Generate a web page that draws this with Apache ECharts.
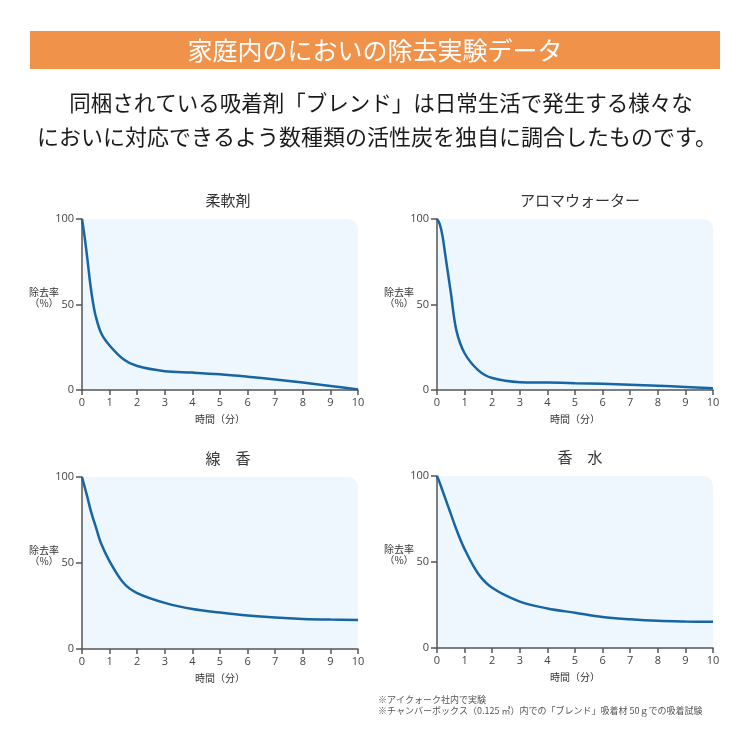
<!DOCTYPE html>
<html>
<head>
<meta charset="utf-8">
<script src="https://cdn.jsdelivr.net/npm/echarts@6/dist/echarts.min.js"></script>
<style>
  html, body { margin: 0; background: #fff; }
  #chart { width: 750px; height: 750px; }
</style>
</head>
<body>
<div id="chart"></div>
<script>
// 経過時間（分）
const times = [0, 0.1, 0.2, 0.3, 0.4, 0.5, 0.7, 1, 1.5, 2, 3, 4, 5, 6, 7, 8, 9, 10];
// 除去率（%）… 画像から読み取り
const softener   = [100, 89, 76, 62, 51, 43, 33, 26, 18, 14, 11, 10.2, 9.2, 7.8, 6.2, 4.4, 2.4, 0.3];
const aromaWater = [100, 97, 90, 79, 68, 57, 35, 21.5, 11.5, 7, 4.6, 4.4, 4.0, 3.6, 3.1, 2.5, 1.8, 1.0];
const incense    = [100, 94, 88, 81.5, 76, 71, 61, 51, 38.5, 32.5, 26.8, 23.2, 21.2, 19.5, 18.3, 17.5, 17.1, 16.9];
const perfume    = [100, 96, 91.5, 87, 82.5, 78, 69, 57.5, 43, 35, 27, 23, 20.5, 18, 16.7, 15.8, 15.4, 15.2];

const panelNames = ['柔軟剤', 'アロマウォーター', '線　香', '香　水'];
const panelValues = [softener, aromaWater, incense, perfume];

const headline = '家庭内のにおいの除去実験データ';
const introLines = [
  '同梱されている吸着剤「ブレンド」は日常生活で発生する様々な',
  'においに対応できるよう数種類の活性炭を独自に調合したものです。'
];
const notes = [
  '※アイクォーク社内で実験',
  '※チャンバーボックス（0.125 ㎥）内での「ブレンド」吸着材 50ｇでの吸着試験'
];
const yName = '除去率\n（%）';
const xName = '時間（分）';

const JP = '"Noto Sans CJK JP", sans-serif';
const NUM = '"Open Sans", "Noto Sans CJK JP", sans-serif';
const AXIS = '#555';

// パネル配置
const boxes = [
  { left: 82,  top: 219, width: 276, height: 171 },
  { left: 437, top: 219, width: 276, height: 171 },
  { left: 82,  top: 477, width: 276, height: 172 },
  { left: 437, top: 476, width: 276, height: 172 }
];

const chart = echarts.init(document.getElementById('chart'));

const graphic = [
  { type: 'rect', shape: { x: 30, y: 31, width: 690, height: 38 }, style: { fill: '#F0924A' } },
  { type: 'text', x: 375, y: 50, style: { text: headline, fill: '#fff', font: '25px ' + JP, align: 'center', verticalAlign: 'middle' } },
  { type: 'text', x: 381, y: 103, style: { text: introLines[0], fill: '#1a1a1a', font: '21.5px ' + JP, align: 'center', verticalAlign: 'middle' } },
  { type: 'text', x: 377, y: 137, style: { text: introLines[1], fill: '#1a1a1a', font: '22px ' + JP, align: 'center', verticalAlign: 'middle' } },
  { type: 'text', x: 378, y: 700, style: { text: notes[0], fill: '#555', font: '9px ' + JP, verticalAlign: 'middle' } },
  { type: 'text', x: 378, y: 711, style: { text: notes[1], fill: '#555', font: '9px ' + JP, verticalAlign: 'middle' } }
];
boxes.forEach(b => {
  graphic.push({
    type: 'rect', z: -10,
    shape: { x: b.left, y: b.top, width: b.width, height: b.height, r: [0, 10, 0, 0] },
    style: { fill: '#EEF7FD' }
  });
  // 縦軸の見出し
  graphic.push({
    type: 'text', x: b.left - 38, y: b.top + 79,
    style: { text: yName, fill: '#333', font: '10px ' + JP, align: 'center', verticalAlign: 'middle', lineHeight: 11 }
  });
});

const option = {
  animation: false,
  backgroundColor: '#fff',
  graphic: graphic,
  title: boxes.map((b, i) => ({
    text: panelNames[i],
    left: b.left + b.width / 2 + (i % 2 === 0 ? 3 : 0),
    top: b.top - 31,
    textAlign: 'center',
    textStyle: { fontFamily: JP, fontSize: 15, fontWeight: 'normal', color: '#333' }
  })),
  grid: boxes.map(b => ({ left: b.left, top: b.top, width: b.width, height: b.height, containLabel: false })),
  xAxis: boxes.map((b, i) => ({
    type: 'value', gridIndex: i, min: 0, max: 10, interval: 1,
    name: xName, nameLocation: 'middle', nameGap: 24,
    nameTextStyle: { fontFamily: JP, fontSize: 10, color: '#333' },
    axisLine: { show: true, onZero: false, lineStyle: { color: AXIS, width: 1.5 } },
    axisTick: { show: true, length: 5, lineStyle: { color: AXIS, width: 1.5 } },
    axisLabel: { margin: 7, fontFamily: NUM, fontSize: 11, color: '#444' },
    splitLine: { show: false }
  })),
  yAxis: boxes.map((b, i) => ({
    type: 'value', gridIndex: i, min: 0, max: 100, interval: 50,
    axisLine: { show: true, onZero: false, lineStyle: { color: AXIS, width: 1.5 } },
    axisTick: { show: true, length: 6, lineStyle: { color: AXIS, width: 1.5 } },
    axisLabel: { margin: 8, fontFamily: NUM, fontSize: 11, color: '#444' },
    splitLine: { show: false }
  })),
  series: panelValues.map((vals, i) => ({
    type: 'line',
    name: panelNames[i],
    xAxisIndex: i,
    yAxisIndex: i,
    smooth: 0.35,
    showSymbol: false,
    lineStyle: { color: '#1765A3', width: 2.5 },
    data: times.map((t, j) => [t, vals[j]])
  }))
};

chart.setOption(option);
window.addEventListener('resize', () => {
  chart.resize();
});
</script>
</body>
</html>
